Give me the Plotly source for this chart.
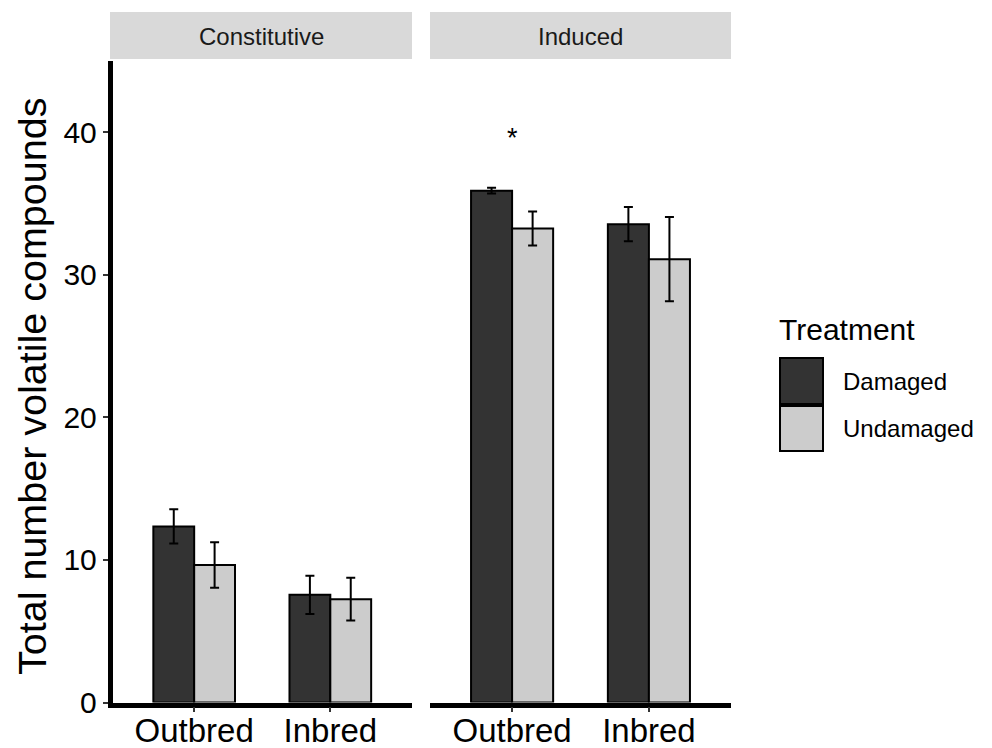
import plotly.graph_objects as go

# Data: mean total number of volatile compounds (± SE)
categories = ["Outbred", "Inbred"]
treatments = ["Damaged", "Undamaged"]

const_damaged = [12.35, 7.55]
const_damaged_se = [1.2, 1.35]
const_undamaged = [9.65, 7.25]
const_undamaged_se = [1.6, 1.5]

induced_damaged = [35.9, 33.55]
induced_damaged_se = [0.2, 1.2]
induced_undamaged = [33.25, 31.1]
induced_undamaged_se = [1.2, 2.95]

panel_titles = ["Constitutive", "Induced"]
signif_label = "*"
signif_y = 40

colors = {"Damaged": "#333333", "Undamaged": "#cccccc"}
FONT = "Liberation Sans, Arial, sans-serif"

W, H = 992, 748


def px(x):
    return x / W


def py(y):
    return 1 - y / H


fig = go.Figure()

series = [
    ("x", "y", "Damaged", const_damaged, const_damaged_se),
    ("x", "y", "Undamaged", const_undamaged, const_undamaged_se),
    ("x2", "y2", "Damaged", induced_damaged, induced_damaged_se),
    ("x2", "y2", "Undamaged", induced_undamaged, induced_undamaged_se),
]
for xa, ya, name, vals, se in series:
    fig.add_trace(go.Bar(
        x=categories, y=vals, name=name, xaxis=xa, yaxis=ya,
        offsetgroup=name, showlegend=False,
        marker=dict(color=colors[name], line=dict(color="black", width=2)),
        error_y=dict(type="data", array=se, visible=True,
                     color="black", thickness=2, width=4.5),
    ))

y_dom = [py(702.5), py(61)]
left_dom = [px(112.5), px(412)]
right_dom = [px(430), px(731)]

xcommon = dict(type="category", categoryorder="array", categoryarray=categories,
               range=[-0.6, 1.6], showline=True, linecolor="black", linewidth=4.5,
               ticks="outside", ticklen=5, tickwidth=1.5, tickcolor="#333333",
               tickfont=dict(family=FONT, size=33, color="black"),
               ticklabelstandoff=-10,
               showgrid=False, zeroline=False, fixedrange=True, automargin=False)

fig.update_layout(
    width=W, height=H,
    margin=dict(l=0, r=0, t=0, b=0, autoexpand=False),
    paper_bgcolor="white", plot_bgcolor="white",
    barmode="group", bargap=0.4, bargroupgap=0,
    showlegend=False,
    xaxis=dict(domain=left_dom, anchor="y", **xcommon),
    xaxis2=dict(domain=right_dom, anchor="y2", **xcommon),
    yaxis=dict(domain=y_dom, anchor="x", range=[0, 45], tickvals=[0, 10, 20, 30, 40],
               showline=True, linecolor="black", linewidth=4.5,
               ticks="outside", ticklen=5, tickwidth=1.5, tickcolor="#333333",
               tickfont=dict(family=FONT, size=30, color="black"),
               showgrid=False, zeroline=False, automargin=False),
    yaxis2=dict(domain=y_dom, anchor="x2", range=[0, 45], matches="y",
                showline=False, showticklabels=False, ticks="",
                showgrid=False, zeroline=False, automargin=False),
)

shapes = []
annotations = []

# facet strips
for i, (dom, title) in enumerate(zip([left_dom, right_dom], panel_titles)):
    x0 = dom[0] - px(2.5) if i == 0 else dom[0]
    shapes.append(dict(type="rect", xref="paper", yref="paper",
                       x0=x0, x1=dom[1], y0=py(59), y1=py(12),
                       fillcolor="#d9d9d9", line=dict(width=0), layer="below"))
    annotations.append(dict(xref="paper", yref="paper",
                            x=(x0 + dom[1]) / 2, y=py(37), text=title,
                            showarrow=False, xanchor="center", yanchor="middle",
                            font=dict(family=FONT, size=24, color="#1a1a1a")))

# significance marker
annotations.append(dict(xref="x2", yref="y2", x=categories[0], y=signif_y,
                        text=signif_label, showarrow=False, yanchor="middle",
                        yshift=-6, font=dict(family=FONT, size=27, color="black")))

# y-axis title
annotations.append(dict(xref="paper", yref="paper", x=px(32), y=py(387),
                        text="Total number volatile compounds", textangle=-90,
                        showarrow=False, xanchor="center", yanchor="middle",
                        font=dict(family=FONT, size=39.5, color="black")))

# legend
annotations.append(dict(xref="paper", yref="paper", x=px(777), y=py(329),
                        text="Treatment", showarrow=False, xanchor="left",
                        yanchor="middle", font=dict(family=FONT, size=30, color="black")))
key_rows = [(358, 404), (406, 451)]
for (top, bot), name in zip(key_rows, treatments):
    shapes.append(dict(type="rect", xref="paper", yref="paper",
                       x0=px(780), x1=px(823), y0=py(bot), y1=py(top),
                       fillcolor=colors[name], line=dict(color="black", width=2)))
    annotations.append(dict(xref="paper", yref="paper", x=px(841), y=py((top + bot) / 2),
                            text=name, showarrow=False, xanchor="left", yanchor="middle",
                            font=dict(family=FONT, size=24, color="black")))

fig.update_layout(shapes=shapes, annotations=annotations)

fig.write_html("out.html")
